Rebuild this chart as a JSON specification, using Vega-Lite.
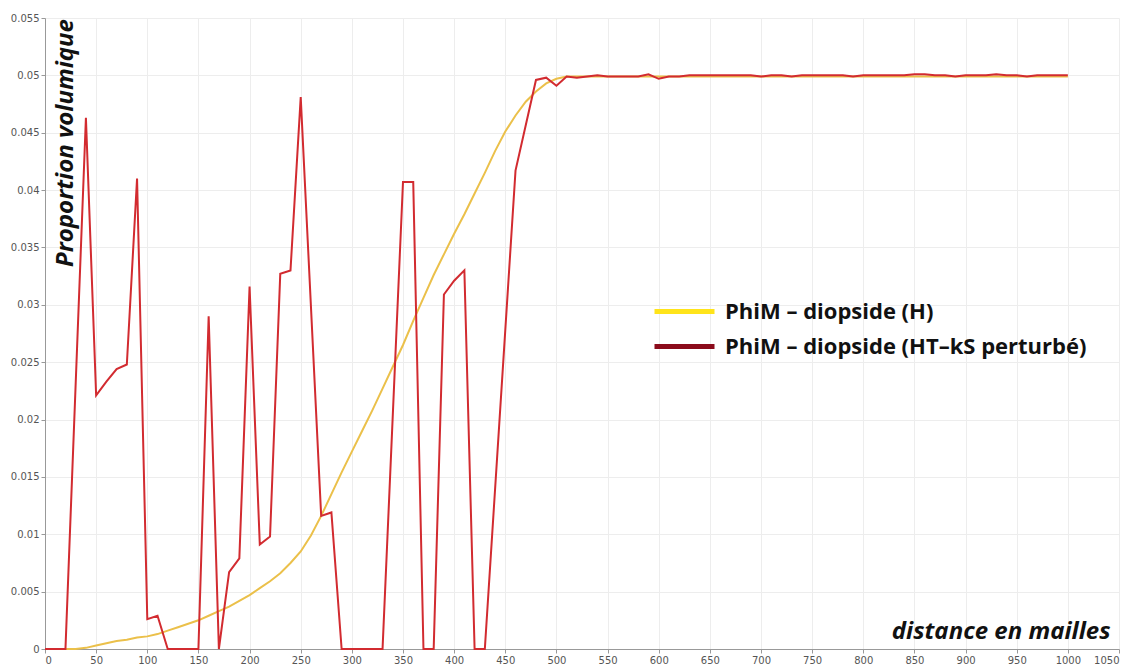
{
  "$schema": "https://vega.github.io/schema/vega-lite/v6.json",
  "width": 1074,
  "height": 631,
  "autosize": {"type": "none"},
  "padding": {"left": 45, "top": 18, "right": 12, "bottom": 16},
  "background": "white",
  "view": {"stroke": null},
  "data": {"values": [
    {"distance": 0, "proportion": 0, "serie": "PhiM – diopside (H)"},
    {"distance": 10, "proportion": 0, "serie": "PhiM – diopside (H)"},
    {"distance": 20, "proportion": 0, "serie": "PhiM – diopside (H)"},
    {"distance": 30, "proportion": 0, "serie": "PhiM – diopside (H)"},
    {"distance": 40, "proportion": 0.0001, "serie": "PhiM – diopside (H)"},
    {"distance": 50, "proportion": 0.0003, "serie": "PhiM – diopside (H)"},
    {"distance": 60, "proportion": 0.0005, "serie": "PhiM – diopside (H)"},
    {"distance": 70, "proportion": 0.0007, "serie": "PhiM – diopside (H)"},
    {"distance": 80, "proportion": 0.0008, "serie": "PhiM – diopside (H)"},
    {"distance": 90, "proportion": 0.001, "serie": "PhiM – diopside (H)"},
    {"distance": 100, "proportion": 0.0011, "serie": "PhiM – diopside (H)"},
    {"distance": 110, "proportion": 0.0013, "serie": "PhiM – diopside (H)"},
    {"distance": 120, "proportion": 0.0016, "serie": "PhiM – diopside (H)"},
    {"distance": 130, "proportion": 0.0019, "serie": "PhiM – diopside (H)"},
    {"distance": 140, "proportion": 0.0022, "serie": "PhiM – diopside (H)"},
    {"distance": 150, "proportion": 0.0025, "serie": "PhiM – diopside (H)"},
    {"distance": 160, "proportion": 0.0029, "serie": "PhiM – diopside (H)"},
    {"distance": 170, "proportion": 0.0033, "serie": "PhiM – diopside (H)"},
    {"distance": 180, "proportion": 0.0037, "serie": "PhiM – diopside (H)"},
    {"distance": 190, "proportion": 0.0042, "serie": "PhiM – diopside (H)"},
    {"distance": 200, "proportion": 0.0047, "serie": "PhiM – diopside (H)"},
    {"distance": 210, "proportion": 0.0053, "serie": "PhiM – diopside (H)"},
    {"distance": 220, "proportion": 0.0059, "serie": "PhiM – diopside (H)"},
    {"distance": 230, "proportion": 0.0066, "serie": "PhiM – diopside (H)"},
    {"distance": 240, "proportion": 0.0075, "serie": "PhiM – diopside (H)"},
    {"distance": 250, "proportion": 0.0085, "serie": "PhiM – diopside (H)"},
    {"distance": 260, "proportion": 0.0099, "serie": "PhiM – diopside (H)"},
    {"distance": 270, "proportion": 0.0116, "serie": "PhiM – diopside (H)"},
    {"distance": 280, "proportion": 0.0135, "serie": "PhiM – diopside (H)"},
    {"distance": 290, "proportion": 0.0154, "serie": "PhiM – diopside (H)"},
    {"distance": 300, "proportion": 0.0172, "serie": "PhiM – diopside (H)"},
    {"distance": 310, "proportion": 0.019, "serie": "PhiM – diopside (H)"},
    {"distance": 320, "proportion": 0.0208, "serie": "PhiM – diopside (H)"},
    {"distance": 330, "proportion": 0.0227, "serie": "PhiM – diopside (H)"},
    {"distance": 340, "proportion": 0.0246, "serie": "PhiM – diopside (H)"},
    {"distance": 350, "proportion": 0.0265, "serie": "PhiM – diopside (H)"},
    {"distance": 360, "proportion": 0.0286, "serie": "PhiM – diopside (H)"},
    {"distance": 370, "proportion": 0.0306, "serie": "PhiM – diopside (H)"},
    {"distance": 380, "proportion": 0.0326, "serie": "PhiM – diopside (H)"},
    {"distance": 390, "proportion": 0.0344, "serie": "PhiM – diopside (H)"},
    {"distance": 400, "proportion": 0.0362, "serie": "PhiM – diopside (H)"},
    {"distance": 410, "proportion": 0.0379, "serie": "PhiM – diopside (H)"},
    {"distance": 420, "proportion": 0.0397, "serie": "PhiM – diopside (H)"},
    {"distance": 430, "proportion": 0.0415, "serie": "PhiM – diopside (H)"},
    {"distance": 440, "proportion": 0.0434, "serie": "PhiM – diopside (H)"},
    {"distance": 450, "proportion": 0.0451, "serie": "PhiM – diopside (H)"},
    {"distance": 460, "proportion": 0.0465, "serie": "PhiM – diopside (H)"},
    {"distance": 470, "proportion": 0.0477, "serie": "PhiM – diopside (H)"},
    {"distance": 480, "proportion": 0.0486, "serie": "PhiM – diopside (H)"},
    {"distance": 490, "proportion": 0.0493, "serie": "PhiM – diopside (H)"},
    {"distance": 500, "proportion": 0.0497, "serie": "PhiM – diopside (H)"},
    {"distance": 510, "proportion": 0.0499, "serie": "PhiM – diopside (H)"},
    {"distance": 550, "proportion": 0.0499, "serie": "PhiM – diopside (H)"},
    {"distance": 600, "proportion": 0.0499, "serie": "PhiM – diopside (H)"},
    {"distance": 700, "proportion": 0.0499, "serie": "PhiM – diopside (H)"},
    {"distance": 800, "proportion": 0.0499, "serie": "PhiM – diopside (H)"},
    {"distance": 900, "proportion": 0.0499, "serie": "PhiM – diopside (H)"},
    {"distance": 1000, "proportion": 0.0499, "serie": "PhiM – diopside (H)"},
    {"distance": 0, "proportion": 0, "serie": "PhiM – diopside (HT–kS perturbé)"},
    {"distance": 10, "proportion": 0, "serie": "PhiM – diopside (HT–kS perturbé)"},
    {"distance": 20, "proportion": 0, "serie": "PhiM – diopside (HT–kS perturbé)"},
    {"distance": 40, "proportion": 0.0463, "serie": "PhiM – diopside (HT–kS perturbé)"},
    {"distance": 50, "proportion": 0.0221, "serie": "PhiM – diopside (HT–kS perturbé)"},
    {"distance": 60, "proportion": 0.0233, "serie": "PhiM – diopside (HT–kS perturbé)"},
    {"distance": 70, "proportion": 0.0244, "serie": "PhiM – diopside (HT–kS perturbé)"},
    {"distance": 80, "proportion": 0.0248, "serie": "PhiM – diopside (HT–kS perturbé)"},
    {"distance": 90, "proportion": 0.041, "serie": "PhiM – diopside (HT–kS perturbé)"},
    {"distance": 100, "proportion": 0.0026, "serie": "PhiM – diopside (HT–kS perturbé)"},
    {"distance": 110, "proportion": 0.0029, "serie": "PhiM – diopside (HT–kS perturbé)"},
    {"distance": 120, "proportion": 0, "serie": "PhiM – diopside (HT–kS perturbé)"},
    {"distance": 130, "proportion": 0, "serie": "PhiM – diopside (HT–kS perturbé)"},
    {"distance": 140, "proportion": 0, "serie": "PhiM – diopside (HT–kS perturbé)"},
    {"distance": 150, "proportion": 0, "serie": "PhiM – diopside (HT–kS perturbé)"},
    {"distance": 160, "proportion": 0.029, "serie": "PhiM – diopside (HT–kS perturbé)"},
    {"distance": 170, "proportion": 0, "serie": "PhiM – diopside (HT–kS perturbé)"},
    {"distance": 180, "proportion": 0.0067, "serie": "PhiM – diopside (HT–kS perturbé)"},
    {"distance": 190, "proportion": 0.0079, "serie": "PhiM – diopside (HT–kS perturbé)"},
    {"distance": 200, "proportion": 0.0316, "serie": "PhiM – diopside (HT–kS perturbé)"},
    {"distance": 210, "proportion": 0.0091, "serie": "PhiM – diopside (HT–kS perturbé)"},
    {"distance": 220, "proportion": 0.0098, "serie": "PhiM – diopside (HT–kS perturbé)"},
    {"distance": 230, "proportion": 0.0327, "serie": "PhiM – diopside (HT–kS perturbé)"},
    {"distance": 240, "proportion": 0.033, "serie": "PhiM – diopside (HT–kS perturbé)"},
    {"distance": 250, "proportion": 0.0481, "serie": "PhiM – diopside (HT–kS perturbé)"},
    {"distance": 270, "proportion": 0.0116, "serie": "PhiM – diopside (HT–kS perturbé)"},
    {"distance": 280, "proportion": 0.0119, "serie": "PhiM – diopside (HT–kS perturbé)"},
    {"distance": 290, "proportion": 0, "serie": "PhiM – diopside (HT–kS perturbé)"},
    {"distance": 300, "proportion": 0, "serie": "PhiM – diopside (HT–kS perturbé)"},
    {"distance": 310, "proportion": 0, "serie": "PhiM – diopside (HT–kS perturbé)"},
    {"distance": 320, "proportion": 0, "serie": "PhiM – diopside (HT–kS perturbé)"},
    {"distance": 330, "proportion": 0, "serie": "PhiM – diopside (HT–kS perturbé)"},
    {"distance": 350, "proportion": 0.0407, "serie": "PhiM – diopside (HT–kS perturbé)"},
    {"distance": 360, "proportion": 0.0407, "serie": "PhiM – diopside (HT–kS perturbé)"},
    {"distance": 370, "proportion": 0, "serie": "PhiM – diopside (HT–kS perturbé)"},
    {"distance": 380, "proportion": 0, "serie": "PhiM – diopside (HT–kS perturbé)"},
    {"distance": 390, "proportion": 0.0309, "serie": "PhiM – diopside (HT–kS perturbé)"},
    {"distance": 400, "proportion": 0.0321, "serie": "PhiM – diopside (HT–kS perturbé)"},
    {"distance": 410, "proportion": 0.033, "serie": "PhiM – diopside (HT–kS perturbé)"},
    {"distance": 420, "proportion": 0, "serie": "PhiM – diopside (HT–kS perturbé)"},
    {"distance": 430, "proportion": 0, "serie": "PhiM – diopside (HT–kS perturbé)"},
    {"distance": 460, "proportion": 0.0417, "serie": "PhiM – diopside (HT–kS perturbé)"},
    {"distance": 480, "proportion": 0.0496, "serie": "PhiM – diopside (HT–kS perturbé)"},
    {"distance": 490, "proportion": 0.0498, "serie": "PhiM – diopside (HT–kS perturbé)"},
    {"distance": 500, "proportion": 0.0491, "serie": "PhiM – diopside (HT–kS perturbé)"},
    {"distance": 510, "proportion": 0.0499, "serie": "PhiM – diopside (HT–kS perturbé)"},
    {"distance": 520, "proportion": 0.0498, "serie": "PhiM – diopside (HT–kS perturbé)"},
    {"distance": 530, "proportion": 0.0499, "serie": "PhiM – diopside (HT–kS perturbé)"},
    {"distance": 540, "proportion": 0.05, "serie": "PhiM – diopside (HT–kS perturbé)"},
    {"distance": 550, "proportion": 0.0499, "serie": "PhiM – diopside (HT–kS perturbé)"},
    {"distance": 560, "proportion": 0.0499, "serie": "PhiM – diopside (HT–kS perturbé)"},
    {"distance": 570, "proportion": 0.0499, "serie": "PhiM – diopside (HT–kS perturbé)"},
    {"distance": 580, "proportion": 0.0499, "serie": "PhiM – diopside (HT–kS perturbé)"},
    {"distance": 590, "proportion": 0.0501, "serie": "PhiM – diopside (HT–kS perturbé)"},
    {"distance": 600, "proportion": 0.0497, "serie": "PhiM – diopside (HT–kS perturbé)"},
    {"distance": 610, "proportion": 0.0499, "serie": "PhiM – diopside (HT–kS perturbé)"},
    {"distance": 620, "proportion": 0.0499, "serie": "PhiM – diopside (HT–kS perturbé)"},
    {"distance": 630, "proportion": 0.05, "serie": "PhiM – diopside (HT–kS perturbé)"},
    {"distance": 640, "proportion": 0.05, "serie": "PhiM – diopside (HT–kS perturbé)"},
    {"distance": 650, "proportion": 0.05, "serie": "PhiM – diopside (HT–kS perturbé)"},
    {"distance": 660, "proportion": 0.05, "serie": "PhiM – diopside (HT–kS perturbé)"},
    {"distance": 670, "proportion": 0.05, "serie": "PhiM – diopside (HT–kS perturbé)"},
    {"distance": 680, "proportion": 0.05, "serie": "PhiM – diopside (HT–kS perturbé)"},
    {"distance": 690, "proportion": 0.05, "serie": "PhiM – diopside (HT–kS perturbé)"},
    {"distance": 700, "proportion": 0.0499, "serie": "PhiM – diopside (HT–kS perturbé)"},
    {"distance": 710, "proportion": 0.05, "serie": "PhiM – diopside (HT–kS perturbé)"},
    {"distance": 720, "proportion": 0.05, "serie": "PhiM – diopside (HT–kS perturbé)"},
    {"distance": 730, "proportion": 0.0499, "serie": "PhiM – diopside (HT–kS perturbé)"},
    {"distance": 740, "proportion": 0.05, "serie": "PhiM – diopside (HT–kS perturbé)"},
    {"distance": 750, "proportion": 0.05, "serie": "PhiM – diopside (HT–kS perturbé)"},
    {"distance": 760, "proportion": 0.05, "serie": "PhiM – diopside (HT–kS perturbé)"},
    {"distance": 770, "proportion": 0.05, "serie": "PhiM – diopside (HT–kS perturbé)"},
    {"distance": 780, "proportion": 0.05, "serie": "PhiM – diopside (HT–kS perturbé)"},
    {"distance": 790, "proportion": 0.0499, "serie": "PhiM – diopside (HT–kS perturbé)"},
    {"distance": 800, "proportion": 0.05, "serie": "PhiM – diopside (HT–kS perturbé)"},
    {"distance": 810, "proportion": 0.05, "serie": "PhiM – diopside (HT–kS perturbé)"},
    {"distance": 820, "proportion": 0.05, "serie": "PhiM – diopside (HT–kS perturbé)"},
    {"distance": 830, "proportion": 0.05, "serie": "PhiM – diopside (HT–kS perturbé)"},
    {"distance": 840, "proportion": 0.05, "serie": "PhiM – diopside (HT–kS perturbé)"},
    {"distance": 850, "proportion": 0.0501, "serie": "PhiM – diopside (HT–kS perturbé)"},
    {"distance": 860, "proportion": 0.0501, "serie": "PhiM – diopside (HT–kS perturbé)"},
    {"distance": 870, "proportion": 0.05, "serie": "PhiM – diopside (HT–kS perturbé)"},
    {"distance": 880, "proportion": 0.05, "serie": "PhiM – diopside (HT–kS perturbé)"},
    {"distance": 890, "proportion": 0.0499, "serie": "PhiM – diopside (HT–kS perturbé)"},
    {"distance": 900, "proportion": 0.05, "serie": "PhiM – diopside (HT–kS perturbé)"},
    {"distance": 910, "proportion": 0.05, "serie": "PhiM – diopside (HT–kS perturbé)"},
    {"distance": 920, "proportion": 0.05, "serie": "PhiM – diopside (HT–kS perturbé)"},
    {"distance": 930, "proportion": 0.0501, "serie": "PhiM – diopside (HT–kS perturbé)"},
    {"distance": 940, "proportion": 0.05, "serie": "PhiM – diopside (HT–kS perturbé)"},
    {"distance": 950, "proportion": 0.05, "serie": "PhiM – diopside (HT–kS perturbé)"},
    {"distance": 960, "proportion": 0.0499, "serie": "PhiM – diopside (HT–kS perturbé)"},
    {"distance": 970, "proportion": 0.05, "serie": "PhiM – diopside (HT–kS perturbé)"},
    {"distance": 980, "proportion": 0.05, "serie": "PhiM – diopside (HT–kS perturbé)"},
    {"distance": 990, "proportion": 0.05, "serie": "PhiM – diopside (HT–kS perturbé)"},
    {"distance": 1000, "proportion": 0.05, "serie": "PhiM – diopside (HT–kS perturbé)"}
  ]},
  "encoding": {
    "x": {
      "field": "distance", "type": "quantitative",
      "scale": {"domain": [0, 1050], "nice": false, "zero": true},
      "axis": {
        "title": "distance en mailles",
        "values": [0,50,100,150,200,250,300,350,400,450,500,550,600,650,700,750,800,850,900,950,1000,1050],
        "format": "d",
        "titleX": 1065, "titleY": -11, "titleAlign": "right", "titleBaseline": "alphabetic", "titleAngle": 0,
        "titleFont": "Open Sans", "titleFontSize": 24, "titleFontWeight": "bold", "titleFontStyle": "italic", "titleColor": "#111111",
        "labelFont": "DejaVu Sans", "labelFontSize": 10, "labelColor": "#555555", "labelPadding": 2,
        "tickSize": 4, "tickColor": "#999999", "domainColor": "#999999",
        "grid": true, "gridColor": "#ededed"
      }
    },
    "y": {
      "field": "proportion", "type": "quantitative",
      "scale": {"domain": [0, 0.055], "nice": false},
      "axis": {
        "title": "Proportion volumique",
        "values": [0,0.005,0.01,0.015,0.02,0.025,0.03,0.035,0.04,0.045,0.05,0.055],
        "format": ".3~f",
        "titleX": 20, "titleY": 124.5, "titleAlign": "center", "titleBaseline": "middle", "titleAngle": 270,
        "titleFont": "Open Sans", "titleFontSize": 24, "titleFontWeight": "bold", "titleFontStyle": "italic", "titleColor": "#111111",
        "labelFont": "DejaVu Sans", "labelFontSize": 10, "labelColor": "#555555", "labelPadding": 2,
        "tickSize": 4, "tickColor": "#999999", "domainColor": "#999999",
        "grid": true, "gridColor": "#ededed"
      }
    }
  },
  "layer": [
    {
      "mark": {"type": "line", "strokeWidth": 0, "strokeOpacity": 0},
      "encoding": {
        "color": {
          "field": "serie", "type": "nominal",
          "scale": {"domain": ["PhiM – diopside (H)", "PhiM – diopside (HT–kS perturbé)"], "range": ["#FFE41A", "#8B0B1B"]},
          "legend": {
            "title": null,
            "orient": "none", "legendX": 622, "legendY": 276,
            "symbolType": "M-2,0H2", "symbolSize": 900, "symbolStrokeWidth": 5, "symbolOpacity": 1,
            "labelFont": "Open Sans", "labelFontSize": 22, "labelFontWeight": "bold", "labelColor": "#111111",
            "labelLimit": 0, "labelOffset": 23, "rowPadding": 6, "padding": 0
          }
        }
      }
    },
    {
      "transform": [{"filter": "datum.serie == 'PhiM – diopside (H)'"}],
      "mark": {"type": "line", "strokeWidth": 2},
      "encoding": {
        "stroke": {"field": "serie", "type": "nominal", "legend": null,
          "scale": {"domain": ["PhiM – diopside (H)", "PhiM – diopside (HT–kS perturbé)"], "range": ["#EBC04A", "#D22B30"]}}
      }
    },
    {
      "transform": [{"filter": "datum.serie != 'PhiM – diopside (H)'"}],
      "mark": {"type": "line", "strokeWidth": 2},
      "encoding": {
        "stroke": {"field": "serie", "type": "nominal", "legend": null}
      }
    }
  ]
}
